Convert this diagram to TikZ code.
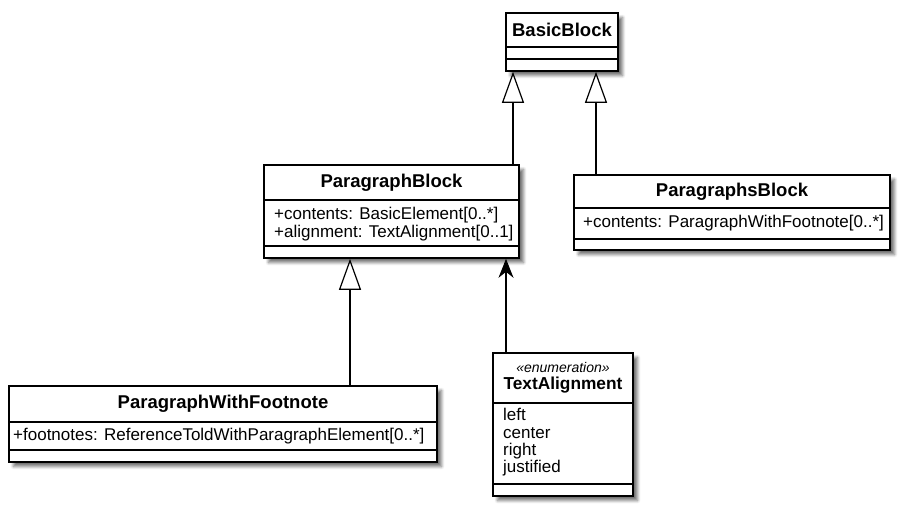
\documentclass[tikz,border=0pt]{standalone}
\usepackage{fontspec}
\setmainfont{Liberation Sans}
\usetikzlibrary{shadows.blur,arrows.meta}
\begin{document}
\begin{tikzpicture}[x=1pt,y=-1pt]
\tikzset{cls/.style={draw,line width=1.6pt,fill=white,inner sep=0pt,blur shadow={shadow xshift=4.5pt,shadow yshift=-4.5pt,shadow blur radius=3pt,shadow blur steps=6,shadow opacity=55}},
 ctitle/.style={font=\bfseries\fontsize{18.5}{20}\selectfont,inner sep=0pt},
 attr/.style={font=\fontsize{17}{17.3}\selectfont,anchor=west,align=left,inner sep=0pt},
 stereo/.style={font=\itshape\fontsize{14}{15}\selectfont,inner sep=0pt},
 sep/.style={line width=1.6pt},
 gen/.style={line width=1.2pt,-{Triangle[open,length=31pt,width=22pt]}},
 assoc/.style={line width=1.2pt,-{Stealth[length=19pt,width=15pt,inset=6pt]}}}
\useasboundingbox (0,0) rectangle (907,512);
% BasicBlock
\node[cls,minimum width=112,minimum height=58] (bb) at (562,42) {};
\node[ctitle] (bbt) at (562,30) {BasicBlock};
\draw[sep] (bb.west |- 0,47) -- (bb.east |- 0,47);
\draw[sep] (bb.west |- 0,59) -- (bb.east |- 0,59);
% ParagraphBlock
\node[cls,minimum width=255,minimum height=93] (pb) at (391.5,211.5) {};
\node[ctitle] (pbt) at (391.5,183) {ParagraphBlock};
\draw[sep] (pb.west |- 0,200) -- (pb.east |- 0,200);
\node[attr] (pba) at (274,224) {+contents: BasicElement[0..*]\\+alignment: TextAlignment[0..1]};
\draw[sep] (pb.west |- 0,246) -- (pb.east |- 0,246);
% ParagraphsBlock
\node[cls,minimum width=316,minimum height=75] (psb) at (732,212.5) {};
\node[ctitle] (psbt) at (732,191.5) {ParagraphsBlock};
\draw[sep] (psb.west |- 0,208) -- (psb.east |- 0,208);
\node[attr] (psba) at (583,223.5) {+contents: ParagraphWithFootnote[0..*]};
\draw[sep] (psb.west |- 0,239) -- (psb.east |- 0,239);
% ParagraphWithFootnote
\node[cls,minimum width=428,minimum height=76] (pwf) at (223,424) {};
\node[ctitle] (pwft) at (223,404) {ParagraphWithFootnote};
\draw[sep] (pwf.west |- 0,422) -- (pwf.east |- 0,422);
\node[attr] (pwfa) at (13,436) {+footnotes: ReferenceToldWithParagraphElement[0..*]};
\draw[sep] (pwf.west |- 0,450) -- (pwf.east |- 0,450);
% TextAlignment
\node[cls,minimum width=140,minimum height=143] (ta) at (563,424.5) {};
\node[stereo] (tas) at (563,367) {«enumeration»};
\node[ctitle,font=\bfseries\fontsize{17.3}{18}\selectfont] (tat) at (563,385) {TextAlignment};
\draw[sep] (ta.west |- 0,403) -- (ta.east |- 0,403);
\node[attr] (taa) at (503,442.5) {left\\center\\right\\justified};
\draw[sep] (ta.west |- 0,484) -- (ta.east |- 0,484);
% connectors
\draw[gen] (pb.north -| 513,0) -- (bb.south -| 513,0);
\draw[gen] (psb.north -| 596,0) -- (bb.south -| 596,0);
\draw[gen] (pwf.north -| 350,0) -- (pb.south -| 350,0);
\draw[assoc] (ta.north -| 506,0) -- (pb.south -| 506,0);
\end{tikzpicture}
\end{document}
